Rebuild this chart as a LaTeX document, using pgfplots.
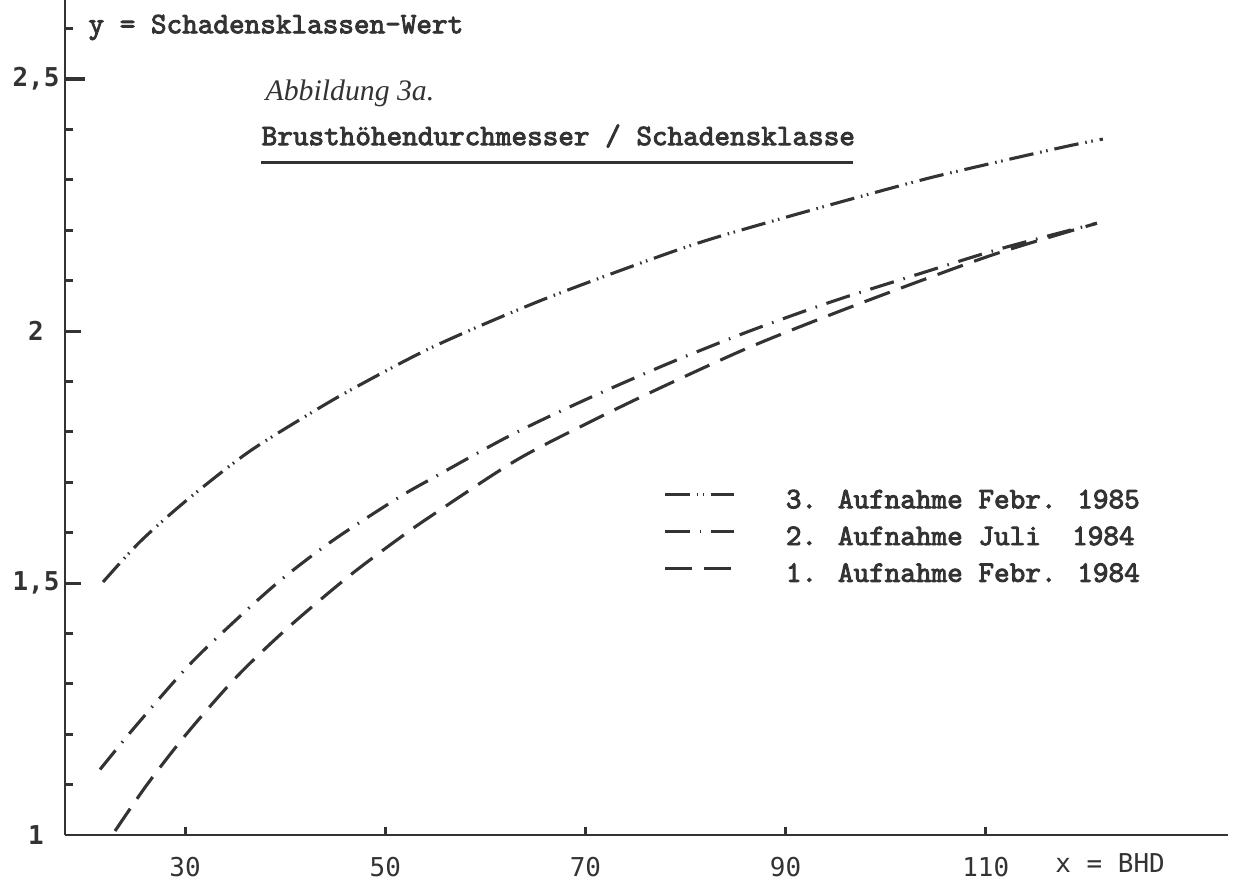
\documentclass[border=0pt]{standalone}
\usepackage{pgfplots}
\pgfplotsset{compat=1.18}
\usepackage{fontspec}
\setmainfont{Liberation Serif}
\newfontfamily\sm{DejaVu Sans Mono}
\newfontfamily\twfont{Latin Modern Mono}[FakeBold=3]
\newcommand{\twb}{\twfont\fontsize{11}{13}\selectfont}
\newcommand{\smr}{\sm\fontsize{9.6}{11}\selectfont}
\colorlet{ink}{black!80}

\begin{document}
\begin{tikzpicture}
\useasboundingbox (-0.845,-0.637) rectangle (15.184,10.855);
\begin{axis}[
scale only axis,
width=15.119cm, height=10.855cm,
xmin=18.0, xmax=134.2,
ymin=1, ymax=2.657,
clip=false,
axis x line=bottom, axis y line=left,
axis line style={-, line width=1.1pt, ink},
xtick={30,50,70,90,110},
ytick={1,1.5,2,2.5},
minor ytick={1.1,1.2,1.3,1.4,1.6,1.7,1.8,1.9,2.1,2.2,2.3,2.4,2.6},
xtick align=inside, ytick align=inside,
major tick length=0.1cm,
minor tick length=0.1cm,
tick style={line width=1.1pt, ink},
/pgf/number format/use comma,
/pgf/number format/assume math mode=true,
xticklabel style={font=\smr, text=ink, anchor=center, yshift=-0.416cm},
yticklabel style={font=\sm\bfseries\fontsize{9.6}{11}\selectfont, text=ink, anchor=center, xshift=-0.377cm},
legend style={draw=none, fill=none, at={(axis cs:77.75,1.687)}, anchor=north west,
  inner sep=0pt, font=\twb, text=ink, row sep=4.6pt, column sep=0.65cm,
  nodes={inner sep=0pt, text height=7pt, text depth=2pt}},
legend cell align=left,
legend image code/.code={\draw[#1] (0cm,2.5pt) -- (0.9cm,2.5pt);},
]

% 3. Aufnahme Febr. 1985
\addplot[ink, line width=1.15pt, smooth,
  dash pattern=on 0.32cm off 0.09cm on 0.02cm off 0.06cm on 0.02cm off 0.09cm] coordinates {
(21.8,1.502) (25.5,1.582) (30.2,1.665) (36.2,1.758) (42.2,1.833) (46.8,1.886)
(54.8,1.969) (65.2,2.058) (75.8,2.137) (82.1,2.180) (89.7,2.224) (97.1,2.265)
(104.4,2.304) (111.7,2.338) (118.4,2.368) (121.7,2.381)
};
\addlegendentry{3. Aufnahme Febr. 1985}

% 2. Aufnahme Juli 1984
\addplot[ink, line width=1.15pt, smooth,
  dash pattern=on 0.32cm off 0.13cm on 0.02cm off 0.13cm] coordinates {
(21.5,1.130) (24.8,1.210) (30.2,1.333) (34.5,1.416) (39.5,1.505) (44.8,1.585)
(51.2,1.668) (54.8,1.709) (62.5,1.793) (69.8,1.862) (78.2,1.935) (86.4,2.000)
(94.7,2.059) (103.1,2.112) (111.4,2.163) (121.1,2.214)
};
\addlegendentry{2. Aufnahme Juli~~1984}

% 1. Aufnahme Febr. 1984
\addplot[ink, line width=1.15pt, smooth,
  dash pattern=on 0.35cm off 0.156cm] coordinates {
(23.0,1.008) (26.2,1.100) (30.2,1.202) (35.2,1.315) (40.2,1.410) (46.2,1.511)
(51.2,1.586) (54.8,1.636) (63.2,1.745) (71.5,1.830) (78.2,1.894) (86.4,1.968)
(94.7,2.034) (103.1,2.097) (111.4,2.156) (121.1,2.214)
};
\addlegendentry{1. Aufnahme Febr. 1984}

% longer strokes for the labelled y ticks
\draw[ink, line width=1.1pt] (axis cs:18,1.5) -- (axis cs:19.6,1.5);
\draw[ink, line width=1.1pt] (axis cs:18,2) -- (axis cs:19.6,2);
\draw[ink, line width=1.5pt] (axis cs:18,2.5) -- (axis cs:20.0,2.5);

\node[anchor=base west, font=\twb, text=ink, inner sep=0pt] at (axis cs:20.3,2.591) {y = Schadensklassen-Wert};
\node[anchor=base west, font=\itshape\fontsize{11}{13}\selectfont, text=ink, inner sep=0pt] at (axis cs:38.0,2.458) {Abbildung 3a.};
\node[anchor=base west, font=\twb, text=ink, inner sep=0pt] at (axis cs:37.6,2.369) {Brusthöhendurchmesser / Schadensklasse};
\draw[ink, line width=1.2pt] (axis cs:37.6,2.335) -- (axis cs:96.7,2.335);
\node[anchor=base west, font=\smr, text=ink, inner sep=0pt] at (axis cs:116.9,0.925) {x = BHD};
\end{axis}
\end{tikzpicture}
\end{document}
